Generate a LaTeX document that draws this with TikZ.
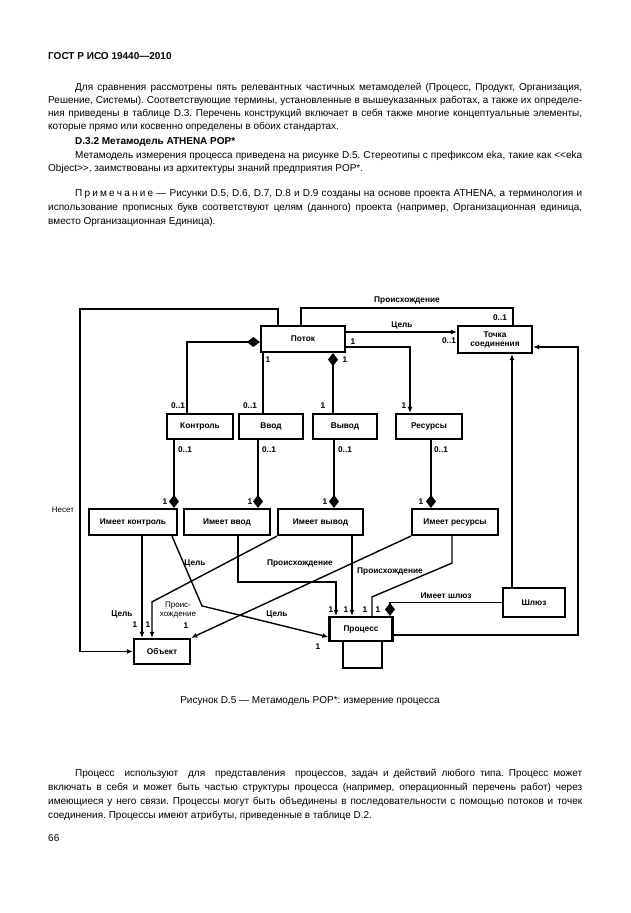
\documentclass[tikz,border=0pt]{standalone}
\usepackage{fontspec}
\setmainfont{Liberation Sans}
\usetikzlibrary{arrows.meta,positioning}

\newcommand\dfont{\bfseries\fontsize{8.3}{9}\selectfont}
\frenchspacing

\begin{document}
\begin{tikzpicture}[x=1pt,y=-1pt,>={Latex[length=6pt,width=5pt]},
  box/.style={draw,line width=2.2pt,inner sep=0pt,font=\dfont},
  lbl/.style={inner sep=0pt,font=\dfont},
  thin lbl/.style={inner sep=0pt,font=\fontsize{8}{8.5}\selectfont},
  ln/.style={line width=1.4pt},
  dia/.style={ln,-{Diamond[length=13pt,width=10pt]}},
  txt/.style={anchor=base west,inner sep=0pt,font=\fontsize{10}{12}\selectfont}]
\useasboundingbox (0,0) rectangle (630,913);
\fill[white] (0,0) rectangle (630,913);

% page text
\node[txt,font=\bfseries\fontsize{10}{12}\selectfont] (head) at (48,59) {ГОСТ Р ИСО 19440—2010};
\node[txt] (p1a) at (75,90.5) {\makebox[507pt][s]{Для сравнения рассмотрены пять релевантных частичных метамоделей (Процесс, Продукт, Организация,}};
\node[txt] (p1b) at (48,103.5) {\makebox[534pt][s]{Решение, Системы). Соответствующие термины, установленные в вышеуказанных работах, а также их определе-}};
\node[txt] (p1c) at (48,116.5) {\makebox[534pt][s]{ния приведены в таблице D.3. Перечень конструкций включает в себя также многие концептуальные элементы,}};
\node[txt] (p1d) at (48,129.5) {которые прямо или косвенно определены в обоих стандартах.};
\node[txt,font=\bfseries\fontsize{10}{12}\selectfont] (sec) at (75,144.5) {D.3.2 Метамодель ATHENA POP*};
\node[txt] (p2a) at (75,158.5) {\makebox[507pt][s]{Метамодель измерения процесса приведена на рисунке D.5. Стереотипы с префиксом eka, такие как <\kern0pt<eka}};
\node[txt] (p2b) at (48,171.5) {Object>\kern0pt>, заимствованы из архитектуры знаний предприятия POP*.};
\node[txt] (n1a) at (75,196.5) {\makebox[507pt][s]{П\kern2.2pt р\kern2.2pt и\kern2.2pt м\kern2.2pt е\kern2.2pt ч\kern2.2pt а\kern2.2pt н\kern2.2pt и\kern2.2pt е — Рисунки D.5, D.6, D.7, D.8 и D.9 созданы на основе проекта ATHENA, а терминология и}};
\node[txt] (n1b) at (48,210.5) {\makebox[534pt][s]{использование прописных букв соответствуют целям (данного) проекта (например, Организационная единица,}};
\node[txt] (n1c) at (48,224.5) {вместо Организационная Единица).};
\node[inner sep=0pt,font=\fontsize{10}{12}\selectfont,anchor=base] (cap) at (310,703.5) {Рисунок D.5 — Метамодель POP*: измерение процесса};
\node[txt] (p3a) at (75,776.5) {\makebox[507pt][s]{Процесс\ \ используют\ \ для\ \ представления\ \ процессов, задач и действий любого типа. Процесс может}};
\node[txt] (p3b) at (48,790.5) {\makebox[534pt][s]{включать в себя и может быть частью структуры процесса (например, операционный перечень работ) через}};
\node[txt] (p3c) at (48,804.5) {\makebox[534pt][s]{имеющиеся у него связи. Процессы могут быть объединены в последовательности с помощью потоков и точек}};
\node[txt] (p3d) at (48,818.5) {соединения. Процессы имеют атрибуты, приведенные в таблице D.2.};
\node[txt] (pg) at (48,841.5) {66};

% classes
\node[box,minimum width=84pt,minimum height=26pt] (potok) at (303,339) {Поток};
\node[box,minimum width=74pt,minimum height=27pt,align=center] (tochka) at (495,339.5) {Точка\\соединения};
\node[box,minimum width=66pt,minimum height=25pt] (kontrol) at (200,426.5) {Контроль};
\node[box,minimum width=64pt,minimum height=25pt] (vvod) at (271,426.5) {Ввод};
\node[box,minimum width=64pt,minimum height=25pt] (vyvod) at (345,426.5) {Вывод};
\node[box,minimum width=66pt,minimum height=25pt] (resursy) at (429,426.5) {Ресурсы};
\node[box,minimum width=88pt,minimum height=26pt] (ikontrol) at (133,522) {Имеет контроль};
\node[box,minimum width=86pt,minimum height=26pt] (ivvod) at (227,522) {Имеет ввод};
\node[box,minimum width=85pt,minimum height=26pt] (ivyvod) at (320.5,522) {Имеет вывод};
\node[box,minimum width=86pt,minimum height=26pt] (iresursy) at (455,522) {Имеет ресурсы};
\node[box,minimum width=56pt,minimum height=25pt] (obiekt) at (162,651.5) {Объект};
\node[box,minimum width=63pt,minimum height=24pt] (process) at (361,629) {Процесс};
\node[box,minimum width=62pt,minimum height=29pt] (shluz) at (534,602.5) {Шлюз};

% links round Поток
\coordinate (nw) at (80,309);
\draw[ln,->] ([xshift=-25pt]potok.north) |- (nw) |- (obiekt.west);
\draw[ln] ([xshift=-2pt]potok.north) -- ++(0,-17) -| ([xshift=18pt]tochka.north);
\draw[ln,->] ([yshift=7pt]potok.east) -- ([yshift=7pt]potok.east -| tochka.west);
\draw[ln,->] ([yshift=-8pt]potok.east) -| ([xshift=-19pt]resursy.north);
\draw[dia] ([xshift=-13pt]kontrol.north) |- ([yshift=-3pt]potok.west);
\draw[ln] ([xshift=-8pt]vvod.north) -- ([xshift=-8pt]vvod.north |- potok.south);
\draw[dia] ([xshift=-12pt]vyvod.north) -- ([xshift=-12pt]vyvod.north |- potok.south);

% links to Имеет ...
\draw[dia] ([xshift=-26pt]kontrol.south) -- ([xshift=-26pt]kontrol.south |- ikontrol.north);
\draw[dia] ([xshift=-13pt]vvod.south) -- ([xshift=-13pt]vvod.south |- ivvod.north);
\draw[dia] ([xshift=-11pt]vyvod.south) -- ([xshift=-11pt]vyvod.south |- ivyvod.north);
\draw[dia] ([xshift=2pt]resursy.south) -- ([xshift=2pt]resursy.south |- iresursy.north);

% links to Объект and Процесс
\draw[ln,->] ([xshift=9pt]ikontrol.south) -- ([xshift=9pt]ikontrol.south |- obiekt.north);
\draw[ln,->] (ivyvod.south west) -- ([xshift=-10pt,yshift=36pt]obiekt.north) -- ([xshift=-10pt]obiekt.north);
\draw[ln,->] (iresursy.south west) -- (obiekt.north east);
\draw[ln,->] ([xshift=39pt]ikontrol.south) -- ([xshift=40pt,yshift=32pt]obiekt.north) -- ([yshift=-8pt]process.west);
\draw[ln,->] ([xshift=11pt]ivvod.south) |- ([xshift=-25pt,yshift=34pt]process.north) -- ([xshift=-25pt]process.north);
\draw[ln,->] ([xshift=-9pt]process.north |- ivyvod.south) -- ([xshift=-9pt]process.north);
\draw[ln] ([xshift=-3pt]iresursy.south) -- ++(0,27) -- ([xshift=11pt,yshift=19pt]process.north) -- ([xshift=11pt]process.north);
\draw[ln] ([xshift=-18pt]process.south) -- ++(0,26) -| ([xshift=21pt]process.south);
\draw[dia] (shluz.west) -| ([xshift=29pt]process.north);
\draw[ln,->] ([xshift=17pt]tochka.south |- shluz.north) -- ([xshift=17pt]tochka.south);
\draw[ln,->] ([yshift=-6pt]process.east) -| ([xshift=45pt,yshift=-7.5pt]tochka.east) -- ([yshift=-7.5pt]tochka.east);

% labels
\node[lbl] (l1) at (407,301) {Происхождение};
\node[lbl] (l2) at (500,318) {0..1};
\node[lbl] (l3) at (402,325) {Цель};
\node[lbl] (l4) at (449,341) {0..1};
\node[lbl] (l5) at (353,342) {1};
\node[lbl] (l6) at (404,406) {1};
\node[lbl] (l7) at (178,406) {0..1};
\node[lbl] (l8) at (250,406) {0..1};
\node[lbl] (l9) at (268,360) {1};
\node[lbl] (l10) at (345,360) {1};
\node[lbl] (l11) at (323,406) {1};
\node[lbl] (l12) at (185,450) {0..1};
\node[lbl] (l13) at (269,450) {0..1};
\node[lbl] (l14) at (345,450) {0..1};
\node[lbl] (l15) at (441,450) {0..1};
\node[lbl] (l16) at (165,502) {1};
\node[lbl] (l17) at (250,502) {1};
\node[lbl] (l18) at (325,502) {1};
\node[lbl] (l19) at (421,502) {1};
\node[thin lbl] (l20) at (63,510) {Несет};
\node[lbl] (l21) at (195,563) {Цель};
\node[lbl] (l22) at (300,563) {Происхождение};
\node[lbl] (l23) at (390,571) {Происхождение};
\node[lbl] (l24) at (446,596) {Имеет шлюз};
\node[thin lbl,align=center] (l25) at (178,610) {Проис-\\хождение};
\node[lbl] (l26) at (122,614) {Цель};
\node[lbl] (l27) at (277,614) {Цель};
\node[lbl] (l28) at (135,625) {1};
\node[lbl] (l29) at (148,625) {1};
\node[lbl] (l30) at (186,626) {1};
\node[lbl] (l31) at (331,610) {1};
\node[lbl] (l32) at (346,610) {1};
\node[lbl] (l33) at (365,610) {1};
\node[lbl] (l34) at (378,610) {1};
\node[lbl] (l35) at (318,647) {1};
\end{tikzpicture}
\end{document}
